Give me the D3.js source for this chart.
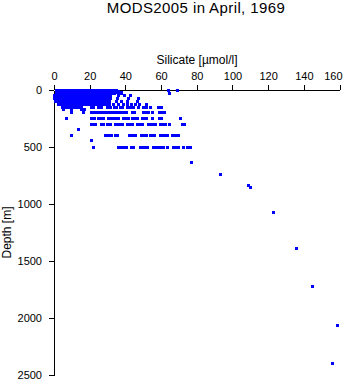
<!DOCTYPE html>
<html><head><meta charset="utf-8">
<script src="https://cdn.jsdelivr.net/npm/d3@7"></script>
<style>
body{margin:0;background:#fff;}
text{font-family:"Liberation Sans",Arial,Helvetica,sans-serif;fill:#000;}
</style>
</head><body>
<svg id="c" width="351" height="384"></svg>
<script>
const chartTitle = "MODS2005 in April, 1969";
const xLabel = "Silicate [\u00b5mol/l]";
const yLabel = "Depth [m]";
const xTicks = [0, 20, 40, 60, 80, 100, 120, 140, 160];
const yTicks = [0, 500, 1000, 1500, 2000, 2500];

// depth levels (m) and silicate values (µmol/l) observed at each level
const depthLevels = [0, 10, 20, 30, 50, 75, 100, 125, 150, 175, 200, 250, 300, 350, 400, 440, 500, 640, 740, 840, 855, 1075, 1390, 1720, 2065, 2400];
const silicateAtLevel = [
  [1.6,3.0,4.3,5.7,7.1,8.4,9.8,11.2,12.5,13.9,15.3,16.6,18.0,19.4,20.7,22.1,23.5,24.8,26.2,27.6,28.9,30.3,31.7,33.0,34.4,35.3,64.0,69.3],
  [1.4,2.8,4.1,5.5,6.9,8.2,9.6,11.0,12.3,13.7,15.1,16.4,17.8,19.2,20.5,21.9,23.3,24.6,26.0,27.4,28.7,30.1,31.5,32.8,34.2,36.0],
  [1.5,2.9,4.2,5.6,7.0,8.3,9.7,11.1,12.4,13.8,15.2,16.5,17.9,19.3,20.6,22.0,23.4,24.7,26.1,27.5,28.8,30.2,31.6,33.0,35.2,37.6],
  [1.3,2.7,4.0,5.4,6.8,8.1,9.5,10.9,12.2,13.6,15.0,16.3,17.7,19.1,20.4,21.8,23.2,24.5,25.9,27.3,28.6,30.0,31.4,32.7,34.1,36.4,38.1,65.0],
  [0.5,1.9,3.2,4.6,6.0,7.3,8.7,10.1,11.4,12.8,14.2,15.5,16.9,18.3,19.6,21.0,22.4,23.7,25.1,26.5,27.8,29.2,30.6,31.9,36.0,39.5,42.6],
  [0.4,1.8,3.1,4.5,5.9,7.2,8.6,10.0,11.3,12.7,14.1,15.4,16.8,18.2,19.5,20.9,22.3,23.6,25.0,26.4,27.7,29.1,30.5,31.8,35.5,41.5,47.3],
  [0.8,2.2,3.5,4.9,6.3,7.6,9.0,10.4,11.7,13.1,14.5,15.8,17.2,18.6,19.9,21.3,22.7,24.0,25.4,26.8,28.1,29.5,30.9,35.2,37.9,41.0,47.0],
  [2.3,3.7,5.0,6.4,7.8,9.1,10.5,11.9,13.2,14.6,16.0,17.3,18.7,20.1,21.4,22.8,24.2,25.5,26.9,28.3,29.6,31.0,33.5,36.4,38.8,41.2,43.6,45.9,48.0,52.0],
  [4.5,5.9,7.2,8.6,10.0,11.3,12.7,14.1,15.5,21.0,22.4,25.2,26.8,30.0,31.5,33.8,35.2,37.0,38.5,41.3,43.0,44.6,47.5,50.2,52.0,54.3,58.4,60.2],
  [5.3,9.8,15.4,17.0],
  [9.8,16.3,20.9,22.3,23.7,25.1,26.5,27.9,29.3,30.7,32.1,33.5,34.9,36.3,37.7,39.1,40.5,44.0,45.3,50.3,51.8,53.2,55.0,59.4,60.8,62.2],
  [6.9,20.8,22.6,24.8,26.4,27.5,30.4,31.8,33.2,34.6,36.0,38.8,40.2,41.5,43.8,45.2,46.6,49.4,51.0,52.0,55.0,59.0,60.5,70.7],
  [20.8,22.2,23.5,26.5,27.5,30.2,31.6,34.2,35.6,37.0,38.4,41.2,42.6,44.0,46.7,48.1,49.5,52.9,54.3,55.7,57.1,59.9,61.3,62.3,65.0,71.8,73.3],
  [14.0],
  [9.7,29.0,30.5,32.0,34.4,35.6,42.5,44.0,45.5,48.8,50.3,51.7,54.0,55.5,56.6,59.5,61.0,62.4,63.8,66.6,68.0,69.5],
  [20.9],
  [21.9,36.2,37.6,39.0,40.6,43.4,44.8,48.4,49.8,51.2,52.6,56.0,57.4,58.8,60.2,61.6,63.6,66.8,68.2,69.8,72.5,75.0,76.5],
  [77.0],
  [93.1],
  [109.0],
  [110.2],
  [123.0],
  [135.8],
  [144.8],
  [158.8],
  [155.8]
];

const points = [];
depthLevels.forEach((d, i) => silicateAtLevel[i].forEach(v => points.push({v, d})));

const svg = d3.select("#c");
const x = d3.scaleLinear().domain([0, 160]).range([54, 339.5]);
const y = d3.scaleLinear().domain([0, 2500]).range([90, 375]);

svg.append("text").attr("x", 196).attr("y", 13).attr("text-anchor", "middle")
  .style("font-size", "15px").style("letter-spacing", "0.4px").text(chartTitle);

const xa = svg.append("g").attr("transform", "translate(0,90)")
  .call(d3.axisTop(x).tickValues(xTicks).tickFormat(d3.format("d")).tickSize(5).tickSizeOuter(0).tickPadding(5));
const ya = svg.append("g").attr("transform", "translate(54,0)")
  .call(d3.axisLeft(y).tickValues(yTicks).tickFormat(d3.format("d")).tickSize(5).tickSizeOuter(0).tickPadding(7));
[xa, ya].forEach(a => {
  a.selectAll("text").style("font-size", "11px").style("font-family", '"Liberation Sans",Arial,sans-serif').attr("fill", "#000");
  a.selectAll("path,line").attr("stroke", "#000").attr("shape-rendering", "crispEdges");
});
xa.selectAll(".tick:last-of-type text").attr("text-anchor", "end").attr("x", 2.5);

svg.append("text").attr("x", 197).attr("y", 64).attr("text-anchor", "middle")
  .style("font-size", "12px").text(xLabel);
svg.append("text").attr("transform", "translate(10.5,232.5) rotate(-90)").attr("text-anchor", "middle")
  .style("font-size", "12px").text(yLabel);

svg.append("g").selectAll("rect").data(points).join("rect")
  .attr("x", p => Math.round(x(p.v) - 1.5))
  .attr("y", p => Math.round(y(p.d) - 1.5))
  .attr("width", 3).attr("height", 3)
  .attr("fill", "#0000ff").attr("shape-rendering", "crispEdges");
</script>
</body></html>
